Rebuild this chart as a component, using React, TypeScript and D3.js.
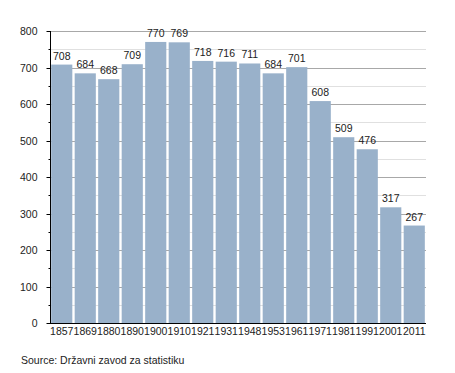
import { useEffect, useRef } from "react";
import * as d3 from "d3";

const years = ["1857", "1869", "1880", "1890", "1900", "1910", "1921", "1931", "1948", "1953", "1961", "1971", "1981", "1991", "2001", "2011"];
const population = [708, 684, 668, 709, 770, 769, 718, 716, 711, 684, 701, 608, 509, 476, 317, 267];
const yTicks = [0, 100, 200, 300, 400, 500, 600, 700, 800];
const minorTicks = [50, 150, 250, 350, 450, 550, 650, 750];

const App = () => {
  const ref = useRef<SVGSVGElement>(null);

  useEffect(() => {
    const svg = d3.select(ref.current);
    svg.selectAll("*").remove();

    const left = 50;
    const right = 426;
    const top = 31;
    const bottom = 323;
    const font = "Liberation Sans, Arial, sans-serif";
    const fs = 10.5;

    const x = d3.scaleBand().domain(years).range([left, right]).paddingInner(0.1).paddingOuter(0.05);
    const y = d3.scaleLinear().domain([0, 800]).range([bottom, top]);

    // gridlines behind the bars
    svg.append("g")
      .selectAll("line")
      .data(minorTicks)
      .join("line")
      .attr("x1", left).attr("x2", right)
      .attr("y1", (d) => Math.round(y(d)) + 0.5).attr("y2", (d) => Math.round(y(d)) + 0.5)
      .attr("stroke", "#e0e0e0");

    svg.append("g")
      .selectAll("line")
      .data(yTicks.slice(1))
      .join("line")
      .attr("x1", left).attr("x2", right)
      .attr("y1", (d) => Math.round(y(d)) + 0.5).attr("y2", (d) => Math.round(y(d)) + 0.5)
      .attr("stroke", "#a8a8a8");

    // bars
    svg.append("g")
      .selectAll("rect")
      .data(population)
      .join("rect")
      .attr("x", (_, i) => x(years[i])!)
      .attr("y", (d) => y(d))
      .attr("width", x.bandwidth())
      .attr("height", (d) => bottom - y(d))
      .attr("fill", "#99b1ca");

    // value labels
    svg.append("g")
      .selectAll("text")
      .data(population)
      .join("text")
      .attr("x", (_, i) => x(years[i])! + x.bandwidth() / 2)
      .attr("y", (d) => y(d) - 5)
      .attr("text-anchor", "middle")
      .attr("font-family", font)
      .attr("font-size", fs)
      .attr("fill", "#222")
      .text((d) => d);

    // y axis
    const yAxis = svg.append("g").attr("transform", `translate(${left + 0.5},0)`);
    yAxis.append("line").attr("y1", top).attr("y2", bottom).attr("stroke", "#000");
    yAxis.selectAll(".major")
      .data(yTicks)
      .join("line")
      .attr("class", "major")
      .attr("x1", -4).attr("x2", 0)
      .attr("y1", (d) => Math.round(y(d)) + 0.5).attr("y2", (d) => Math.round(y(d)) + 0.5)
      .attr("stroke", "#000");
    yAxis.selectAll(".minor")
      .data(minorTicks)
      .join("line")
      .attr("class", "minor")
      .attr("x1", -2).attr("x2", 0)
      .attr("y1", (d) => Math.round(y(d)) + 0.5).attr("y2", (d) => Math.round(y(d)) + 0.5)
      .attr("stroke", "#000");
    yAxis.selectAll("text")
      .data(yTicks)
      .join("text")
      .attr("x", -13)
      .attr("y", (d) => y(d) + 4)
      .attr("text-anchor", "end")
      .attr("font-family", font)
      .attr("font-size", fs)
      .attr("fill", "#222")
      .text((d) => d);

    // x axis
    const xAxis = svg.append("g");
    xAxis.append("line")
      .attr("x1", left).attr("x2", right)
      .attr("y1", bottom + 0.5).attr("y2", bottom + 0.5)
      .attr("stroke", "#000");
    xAxis.selectAll("text")
      .data(years)
      .join("text")
      .attr("x", (d) => x(d)! + x.bandwidth() / 2)
      .attr("y", bottom + 12)
      .attr("text-anchor", "middle")
      .attr("font-family", font)
      .attr("font-size", fs)
      .attr("fill", "#222")
      .text((d) => d);

    svg.append("text")
      .attr("x", 21)
      .attr("y", 364)
      .attr("font-family", font)
      .attr("font-size", fs)
      .attr("fill", "#222")
      .text("Source: Državni zavod za statistiku");
  }, []);

  return (
    <svg
      ref={ref}
      width={455}
      height={373}
      style={{ position: "absolute", left: 0, top: 0, background: "#fff" }}
    />
  );
};

export default App;
